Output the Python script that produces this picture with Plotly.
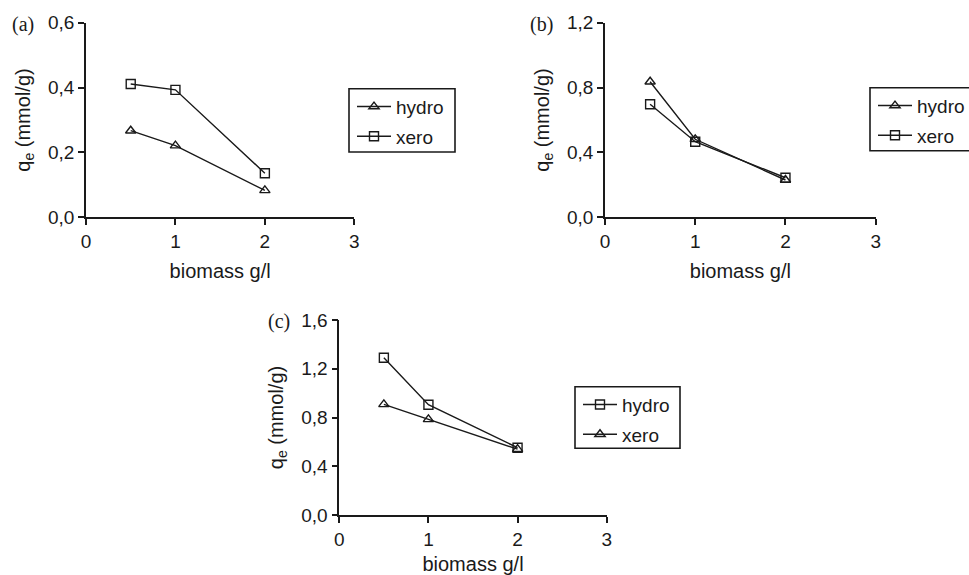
import plotly.graph_objects as go

biomass = [0.5, 1, 2]

# panel (a)
a_hydro = [0.267, 0.221, 0.083]
a_xero = [0.411, 0.393, 0.136]
# panel (b)
b_hydro = [0.836, 0.481, 0.230]
b_xero = [0.697, 0.466, 0.244]
# panel (c)
c_hydro = [1.29, 0.905, 0.552]
c_xero = [0.908, 0.785, 0.540]

x_ticks = [0, 1, 2, 3]
a_yticks = [0.0, 0.2, 0.4, 0.6]
b_yticks = [0.0, 0.4, 0.8, 1.2]
c_yticks = [0.0, 0.4, 0.8, 1.2, 1.6]

W, H = 969, 575
INK = "#1a1a1a"
SANS = "Liberation Sans, Arial, sans-serif"
SERIF = "Liberation Serif, Times New Roman, serif"

def px(x):
    return x / W

def py(y):
    return 1 - y / H

fig = go.Figure()

# legend frame boxes in pixels: (left, top, right, bottom)
panels = [
    ("a", "x", "y", "legend",
     [("hydro", a_hydro, "triangle-up-open"), ("xero", a_xero, "square-open")],
     (86, 354.3), (217.3, 22.7), a_yticks, (349, 88.7, 455, 152), (23, 25)),
    ("b", "x2", "y2", "legend2",
     [("hydro", b_hydro, "triangle-up-open"), ("xero", b_xero, "square-open")],
     (605, 875.7), (217.3, 22.7), b_yticks, (870, 87.7, 976, 150.7), (541, 25)),
    ("c", "x3", "y3", "legend3",
     [("hydro", c_hydro, "square-open"), ("xero", c_xero, "triangle-up-open")],
     (339.3, 606.7), (515, 320), c_yticks, (575, 386.7, 680, 448.3), (279, 321)),
]

layout = dict(
    width=W, height=H,
    margin=dict(l=0, r=0, t=0, b=0, pad=0, autoexpand=False),
    paper_bgcolor="white", plot_bgcolor="white",
    separators=",.",
    font=dict(family=SANS, size=18, color=INK),
    showlegend=True,
    annotations=[],
    shapes=[],
)

for i, (name, xa, ya, lg, series, xd, yd, yt, box, lblpos) in enumerate(panels):
    for j, (sname, vals, sym) in enumerate(series):
        fig.add_trace(go.Scatter(
            x=biomass, y=vals, name=sname, mode="lines+markers",
            xaxis=xa, yaxis=ya, legend=lg, legendgroup=f"{name}{j}",
            line=dict(color=INK, width=1.4),
            marker=dict(symbol=sym, size=9, color=INK, line=dict(width=1.4, color=INK)),
        ))
    sfx = "" if i == 0 else str(i + 1)
    layout[f"xaxis{sfx}"] = dict(
        domain=[px(xd[0]), px(xd[1])], anchor=ya, automargin=False,
        range=[0, 3], tickvals=x_ticks, ticktext=[str(t) for t in x_ticks],
        showline=True, linecolor=INK, linewidth=1.6,
        ticks="outside", ticklen=6, tickwidth=1.6, tickcolor=INK,
        showgrid=False, zeroline=False,
        tickfont=dict(size=19),
        title=dict(text="biomass g/l", font=dict(size=20), standoff=13),
    )
    layout[f"yaxis{sfx}"] = dict(
        domain=[py(yd[0]), py(yd[1])], anchor=xa, automargin=False,
        range=[0, yt[-1]], tickvals=yt, tickformat=".1f",
        showline=True, linecolor=INK, linewidth=1.6,
        ticks="outside", ticklen=6, tickwidth=1.6, tickcolor=INK,
        showgrid=False, zeroline=False,
        tickfont=dict(size=19),
        title=dict(text="q<sub>e</sub> (mmol/g)", font=dict(size=20), standoff=12),
    )
    layout[lg] = dict(
        x=px(box[0] + 3), y=py(box[1] - 1), xanchor="left", yanchor="top",
        borderwidth=0, bgcolor="rgba(0,0,0,0)",
        font=dict(size=19, family=SANS, color=INK),
        tracegroupgap=2, itemwidth=34,
    )
    layout["shapes"].append(dict(
        type="rect", xref="paper", yref="paper",
        x0=px(box[0]), x1=px(box[2]), y0=py(box[3]), y1=py(box[1]),
        line=dict(color=INK, width=1.6), fillcolor="rgba(0,0,0,0)",
    ))
    layout["annotations"].append(dict(
        text=f"({name})", x=px(lblpos[0]), y=py(lblpos[1]),
        xref="paper", yref="paper", showarrow=False,
        xanchor="center", yanchor="middle",
        font=dict(family=SERIF, size=20, color=INK),
    ))

fig.update_layout(**layout)
fig.write_html("out.html")
